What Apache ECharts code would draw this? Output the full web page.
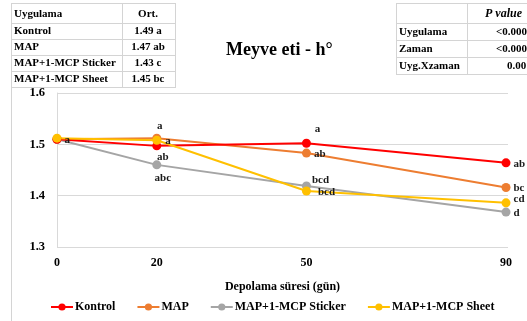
<!DOCTYPE html>
<html>
<head>
<meta charset="utf-8">
<script src="https://cdn.jsdelivr.net/npm/echarts@6/dist/echarts.min.js"></script>
<style>
  html, body { margin: 0; padding: 0; background: #fff; }
  #chart { width: 527px; height: 321px; }
</style>
</head>
<body>
<div id="chart"></div>
<script>
// Storage days and fruit-flesh hue values per treatment
const days = [0, 20, 50, 90];
const seriesNames = ['Kontrol', 'MAP', 'MAP+1-MCP Sticker', 'MAP+1-MCP Sheet'];
const kontrol = [1.510, 1.497, 1.502, 1.464];
const map = [1.510, 1.512, 1.483, 1.416];
const sticker = [1.510, 1.460, 1.419, 1.368];
const sheet = [1.512, 1.508, 1.409, 1.386];

// Significance letters per point
const kontrolLetters = ['a', 'ab', 'a', 'ab'];
const mapLetters = ['', 'a', 'ab', 'bc'];
const stickerLetters = ['', 'abc', 'bcd', 'd'];
const sheetLetters = ['', 'a', 'bcd', 'cd'];

const yTicks = [1.3, 1.4, 1.5, 1.6];

// Means table
const meanRows = ['Kontrol', 'MAP', 'MAP+1-MCP Sticker', 'MAP+1-MCP Sheet'];
const meanVals = ['1.49 a', '1.47 ab', '1.43 c', '1.45 bc'];
// ANOVA table
const pRows = ['Uygulama', 'Zaman', 'Uyg.Xzaman'];
const pVals = ['<0.0001', '<0.0001', '0.0012'];

const colors = ['#ff0000', '#ed7d31', '#a5a5a5', '#ffc000'];
const FONT = 'Liberation Serif';

// label placement per point: [position, dx, dy]
const labelPlace = [
  [['right', 0, 1], ['bottom', 6, -2], ['top', 11, -1], ['right', 0, 1]],
  [null, ['top', 3, 1], ['right', 0, 1], ['right', 0, 1]],
  [null, ['bottom', 6, 0], ['right', -2, -6], ['right', 0, 1]],
  [null, ['right', 1, 1], ['right', 4, 1], ['right', 0, -4]]
];

const allValues = [kontrol, map, sticker, sheet];
const allLetters = [kontrolLetters, mapLetters, stickerLetters, sheetLetters];

const series = allValues.map((vals, si) => ({
  name: seriesNames[si],
  type: 'line',
  data: vals.map((v, i) => {
    const item = { value: [days[i], v] };
    const p = labelPlace[si][i];
    if (allLetters[si][i] && p) {
      item.label = {
        show: true,
        formatter: allLetters[si][i],
        position: p[0],
        offset: [p[1], p[2]],
        distance: 3
      };
    }
    return item;
  }),
  symbol: 'circle',
  symbolSize: 9,
  lineStyle: { width: 2, color: colors[si] },
  itemStyle: { color: colors[si] },
  label: {
    show: false,
    fontFamily: FONT,
    fontWeight: 'bold',
    fontSize: 11,
    color: '#1a1a1a'
  },
  emphasis: { disabled: true },
  z: 2 + (si === 0 ? 3 : si)
}));

// table graphics
const graphics = [];
const border = '#d4d4d4';
function hline(x1, x2, y) {
  graphics.push({ type: 'line', shape: { x1, y1: y, x2, y2: y }, style: { stroke: border, lineWidth: 1 }, silent: true });
}
function vline(x, y1, y2) {
  graphics.push({ type: 'line', shape: { x1: x, y1, x2: x, y2 }, style: { stroke: border, lineWidth: 1 }, silent: true });
}
function text(x, y, s, align, italic) {
  graphics.push({
    type: 'text', x, y, silent: true,
    style: {
      text: s, fill: '#000', font: (italic ? 'italic ' : '') + 'bold 11px "' + FONT + '"',
      textAlign: align, textVerticalAlign: 'middle'
    }
  });
}

// chart frame left edge
vline(11.5, 87, 321);

// means table
const lRows = [3.5, 23.5, 39.5, 55.5, 71.5, 87.5];
lRows.forEach(y => hline(11, 176, y));
vline(11.5, 3, 88);
vline(122.5, 3, 88);
vline(175.5, 3, 88);
text(14, 14, 'Uygulama', 'left');
text(148, 14, 'Ort.', 'center');
meanRows.forEach((r, i) => {
  const y = (lRows[i + 1] + lRows[i + 2]) / 2;
  text(14, y, r, 'left');
  text(148, y, meanVals[i], 'center');
});

// p-value table (its right column runs past the canvas edge)
const rRows = [3.5, 23.5, 40.5, 57.5, 74.5];
const pValX = [496, 496, 507];
rRows.forEach(y => hline(396, 527, y));
vline(396.5, 3, 75);
vline(467.5, 3, 75);
graphics.push({
  type: 'text', x: 522, y: 14, silent: true,
  style: {
    text: 'P value', fill: '#000', font: 'italic bold 12px "' + FONT + '"',
    textAlign: 'right', textVerticalAlign: 'middle'
  }
});
pRows.forEach((r, i) => {
  const y = (rRows[i + 1] + rRows[i + 2]) / 2;
  text(399, y, r, 'left');
  text(pValX[i], y, pVals[i], 'left');
});

const chart = echarts.init(document.getElementById('chart'), null, { renderer: 'canvas' });
chart.setOption({
  animation: false,
  backgroundColor: '#fff',
  textStyle: { fontFamily: FONT },
  title: {
    text: 'Meyve eti - h°',
    left: 221,
    top: 36,
    textStyle: { fontFamily: FONT, fontWeight: 'bold', fontSize: 18, color: '#000' }
  },
  grid: { left: 57, right: 19, top: 93, bottom: 74, containLabel: false },
  legend: {
    bottom: 3,
    left: 45,
    itemWidth: 22,
    itemHeight: 9,
    itemGap: 21,
    data: seriesNames,
    textStyle: { fontFamily: FONT, fontWeight: 'bold', fontSize: 12, color: '#000', padding: [0, 0, 0, -3] }
  },
  xAxis: {
    type: 'value',
    min: 0,
    max: 90.4,
    name: 'Depolama süresi (gün)',
    nameLocation: 'middle',
    nameGap: 34,
    nameTextStyle: { fontFamily: FONT, fontWeight: 'bold', fontSize: 12, color: '#000' },
    axisLine: { show: false },
    axisTick: { show: false },
    splitLine: { show: false },
    axisLabel: {
      customValues: days,
      margin: 10,
      fontFamily: FONT, fontWeight: 'bold', fontSize: 12, color: '#000'
    }
  },
  yAxis: {
    type: 'value',
    min: 1.3,
    max: 1.6,
    interval: 0.1,
    axisLine: { show: true, lineStyle: { color: '#d9d9d9' } },
    axisTick: { show: false },
    splitLine: { show: true, lineStyle: { color: '#d9d9d9' } },
    axisLabel: {
      customValues: yTicks,
      formatter: v => v.toFixed(1),
      margin: 12,
      fontFamily: FONT, fontWeight: 'bold', fontSize: 12.5, color: '#000'
    }
  },
  series: series,
  graphic: graphics
});
</script>
</body>
</html>
